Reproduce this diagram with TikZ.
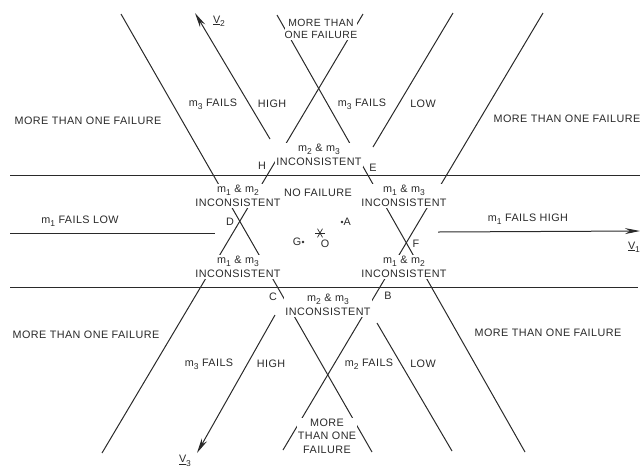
\documentclass[tikz,border=0pt]{standalone}
\usepackage{fontspec}
\usepackage{xcolor}
\usepackage{tikz}
\usetikzlibrary{arrows.meta}
\newfontfamily\lbfamily[LetterSpace=4]{Liberation Sans}
\definecolor{inkGray}{HTML}{2A2A2A}
\newcommand\lbfont{\lbfamily\fontsize{10.8}{14.5}\selectfont}
\newcommand\msub[1]{m\raisebox{-0.6ex}{\fontsize{8.5}{8.5}\selectfont #1}}
\newcommand\vsub[1]{\underline{V}\raisebox{-0.6ex}{\fontsize{8.5}{8.5}\selectfont #1}}
\tikzset{
  bandline/.style={line width=1pt, inkGray},
  vecline/.style={bandline, -{Stealth[length=15pt,width=6pt]}},
  region/.style={font=\lbfont, text=inkGray, fill=white, inner sep=1pt, align=center},
  corner/.style={font=\lbfont, text=inkGray, inner sep=0pt},
}

\begin{document}
\begin{tikzpicture}[x=1pt, y=-1pt]
  \useasboundingbox (0,0) rectangle (642,467);

  % band edges and their end points
  \coordinate (h1a) at (10,175);  \coordinate (h1b) at (640,175);
  \coordinate (h2a) at (10,287);  \coordinate (h2b) at (638,287);
  \coordinate (l1a) at (121,14);  \coordinate (l1b) at (372,452);
  \coordinate (l2a) at (277,15);  \coordinate (l2b) at (525,452);
  \coordinate (l3a) at (363,14);  \coordinate (l3b) at (102,453);
  \coordinate (l4a) at (543,13);  \coordinate (l4b) at (283,450);
  \draw[bandline] (h1a) -- (h1b);
  \draw[bandline] (h2a) -- (h2b);
  \draw[bandline] (l1a) -- (l1b);
  \draw[bandline] (l2a) -- (l2b);
  \draw[bandline] (l3a) -- (l3b);
  \draw[bandline] (l4a) -- (l4b);

  % centre lines of the bands
  \coordinate (c1a) at (10,233);  \coordinate (c1b) at (215,233);
  \coordinate (c1c) at (438,232); \coordinate (c1d) at (640,231);
  \coordinate (c2a) at (270,139); \coordinate (c2b) at (195,13);
  \coordinate (c3a) at (373,147); \coordinate (c3b) at (453,13);
  \coordinate (c4a) at (275,315); \coordinate (c4b) at (197,453);
  \coordinate (c5a) at (377,323); \coordinate (c5b) at (452,451);
  \draw[bandline] (c1a) -- (c1b);
  \draw[vecline] (c1c) -- (c1d);
  \draw[vecline] (c2a) -- (c2b);
  \draw[bandline] (c3a) -- (c3b);
  \draw[vecline] (c4a) -- (c4b);
  \draw[bandline] (c5a) -- (c5b);

  \node[corner] (v1) at (634,247) {\vsub{1}};
  \node[corner] (v2) at (219,21) {\vsub{2}};
  \node[corner] (v3) at (185,461) {\vsub{3}};

  % regions
  \node[region, inner xsep=0pt, inner ysep=1.5pt, font=\lbfamily\fontsize{10.4}{12.5}\selectfont] (topmore) at (321,29) {MORE THAN\\ONE FAILURE};
  \node[region] (tlmore) at (88,121) {MORE THAN ONE FAILURE};
  \node[region] (trmore) at (567,119) {MORE THAN ONE FAILURE};
  \node[region] (m3hfail) at (213,104) {\msub{3} FAILS};
  \node[region] (m3high) at (272,104) {HIGH};
  \node[region] (m3lfail) at (362,104) {\msub{3} FAILS};
  \node[region] (m3low) at (423,104) {LOW};
  \node[region] (inc23t) at (319,155) {\msub{2} \& \msub{3}\\INCONSISTENT};
  \node[region] (inc12t) at (238,196) {\msub{1} \& \msub{2}\\INCONSISTENT};
  \node[region] (nofail) at (318,193) {NO FAILURE};
  \node[region] (inc13t) at (404,196) {\msub{1} \& \msub{3}\\INCONSISTENT};
  \node[region] (m1low) at (80,221) {\msub{1} FAILS LOW};
  \node[region] (m1high) at (528,219) {\msub{1} FAILS HIGH};
  \node[region] (inc13b) at (238,267) {\msub{1} \& \msub{3}\\INCONSISTENT};
  \node[region] (inc12b) at (404,267) {\msub{1} \& \msub{2}\\INCONSISTENT};
  \node[region] (inc23b) at (328,305) {\msub{2} \& \msub{3}\\INCONSISTENT};
  \node[region] (blmore) at (86,335) {MORE THAN ONE FAILURE};
  \node[region] (brmore) at (548,333) {MORE THAN ONE FAILURE};
  \node[region] (m3bfail) at (209,364) {\msub{3} FAILS};
  \node[region] (m3bhigh) at (271,364) {HIGH};
  \node[region] (m2fail) at (369,364) {\msub{2} FAILS};
  \node[region] (m2low) at (423,364) {LOW};
  \node[region, font=\lbfamily\fontsize{10.8}{13.5}\selectfont] (botmore) at (327,436) {MORE\\THAN ONE\\FAILURE};

  % hexagon corners
  \node[corner] (H) at (262,166) {H};
  \node[corner] (E) at (373,168) {E};
  \node[corner] (D) at (230,222) {D};
  \node[corner] (F) at (416,244) {F};
  \node[corner] (C) at (273,297) {C};
  \node[corner] (B) at (388,296) {B};

  % points
  \coordinate (O) at (320,233);
  \foreach \a in {0,60,120}
    \draw[line width=0.7pt, inkGray] ([shift={(\a:5)}]O) -- ([shift={(\a+180:5)}]O);
  \node[corner] (Olab) at (325,244) {O};
  \fill[inkGray] (342,222) circle (1.4) node[corner, right=1.5pt] (A) {A};
  \fill[inkGray] (303,242) circle (1.4) node[corner, left=1.5pt] (G) {G};
\end{tikzpicture}
\end{document}
